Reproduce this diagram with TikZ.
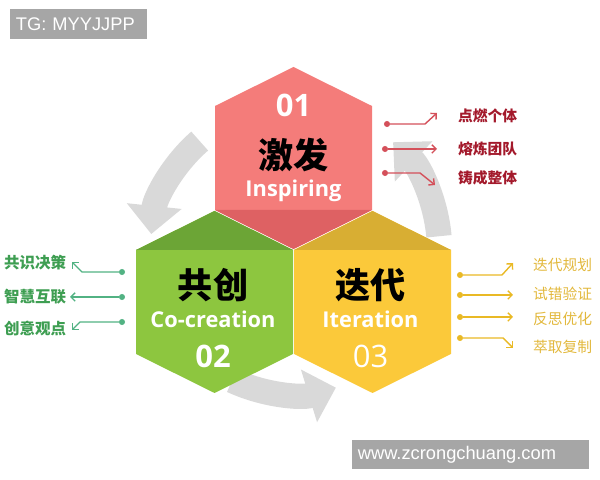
\documentclass[tikz,border=0pt]{standalone}
\usepackage{fontspec}
\setmainfont{Open Sans}
\newfontfamily\cjk{Noto Sans CJK SC}
\newfontfamily\plainsans{Liberation Sans}
\usetikzlibrary{arrows.meta}

\definecolor{HexRedFill}{HTML}{F47C7A}
\definecolor{HexRedCap}{HTML}{DE6163}
\definecolor{HexGreenFill}{HTML}{8DC63F}
\definecolor{HexGreenCap}{HTML}{6CA536}
\definecolor{HexGoldFill}{HTML}{FBC93A}
\definecolor{HexGoldCap}{HTML}{D8AE33}
\definecolor{TurnGrey}{HTML}{D9D9D9}
\definecolor{RedInk}{HTML}{A3192B}
\definecolor{RedWire}{HTML}{D4505A}
\definecolor{GreenInk}{HTML}{3E9E52}
\definecolor{GreenWire}{HTML}{52B283}
\definecolor{GoldInk}{HTML}{E2B83C}
\definecolor{GoldWire}{HTML}{E9B925}
\definecolor{MarkGrey}{HTML}{A6A6A6}

\newcommand{\HexPath}[1]{(#1) +(0,91) -- +(78.5,52) -- +(78.5,-52) -- +(0,-91) -- +(-78.5,-52) -- +(-78.5,52) -- cycle}

\begin{document}
\begin{tikzpicture}[x=0.025cm, y=0.025cm]
  \tikzstyle{every node} = [inner sep = 0,
                            outer sep = 0]
  \tikzstyle{TurnArrow} = [draw = TurnGrey, line width = 18pt,
                           -{Triangle[length = 20pt, width = 38pt]}]
  \tikzstyle{HexTitle} = [font = \cjk\bfseries\fontsize{25}{25}\selectfont]
  \tikzstyle{HexWord} = [font = \bfseries\fontsize{15.5}{16}\selectfont,
                         text = white, anchor = base]
  \tikzstyle{HexNum} = [font = \bfseries\fontsize{22}{22}\selectfont,
                        text = white, anchor = base]
  \tikzstyle{LabelText} = [font = \cjk\bfseries\fontsize{10.5}{11}\selectfont]
  \tikzstyle{WireDot} = [circle, minimum size = 4.3pt]
  \tikzstyle{MarkBox} = [fill = MarkGrey, text = white, anchor = north west,
                         font = \plainsans\fontsize{13}{13}\selectfont,
                         align = left, inner xsep = 4.2pt]
\tikzset{WireStyle/.style = {line width = 1pt,
                             -{Straight Barb[length = 3pt, width = 6pt]}}}
\useasboundingbox (0,0) rectangle (600,480);

\coordinate (R) at (293.5,322);
\coordinate (G) at (214.5,178);
\coordinate (Y) at (372.5,178);
\coordinate (M) at (293.5,231);

% turning arrows behind the cells
\draw[TurnArrow] ([shift={(131:143)}]M) arc[start angle = 131, end angle = 174, radius = 143];
\draw[TurnArrow] ([shift={(245:145)}]M) arc[start angle = 245, end angle = 287, radius = 145];
\draw[TurnArrow] ([shift={(5:146)}]M) arc[start angle = 5, end angle = 47, radius = 146];

% cells
\fill[HexRedFill] \HexPath{R};
\fill[HexGreenFill] \HexPath{G};
\fill[HexGoldFill] \HexPath{Y};
\fill[HexRedCap] (R) +(-78.5,-52) -- +(0,-91) -- +(78.5,-52) -- cycle;
\fill[HexGreenCap] (G) +(-78.5,52) -- +(0,91) -- +(78.5,52) -- cycle;
\fill[HexGoldCap] (Y) +(-78.5,52) -- +(0,91) -- +(78.5,52) -- cycle;

\node[HexNum] (num1) at (293.5,363) {01};
\node[HexTitle] (title1) at (293.5,325) {激发};
\node[HexWord] (word1) at (293.5,283) {Inspiring};

\node[HexTitle] (title2) at (213,195) {共创};
\node[HexWord] (word2) at (213,152) {Co-creation};
\node[HexNum] (num2) at (213,112) {02};

\node[HexTitle] (title3) at (370.5,195) {迭代};
\node[HexWord] (word3) at (370.5,152) {Iteration};
\node[HexNum, font = \fontsize{22}{22}\selectfont] (num3) at (370.5,112) {03};

% red labels
\node[WireDot, fill = RedWire] (rd1) at (387,356) {};
\node[WireDot, fill = RedWire] (rd2) at (385,331) {};
\node[WireDot, fill = RedWire] (rd3) at (385,307) {};
\coordinate (re1) at (437,367);
\coordinate (re2) at (437,331);
\coordinate (re3) at (435,295);
\node[LabelText, text = RedInk, anchor = west] (rt1) at (458,364) {点燃个体};
\node[LabelText, text = RedInk, anchor = west] (rt2) at (458,331) {熔炼团队};
\node[LabelText, text = RedInk, anchor = west] (rt3) at (458,302) {铸成整体};
\draw[WireStyle, RedWire] (rd1) -- ++(38,0) -- (re1);
\draw[WireStyle, RedWire] (rd2) -- (re2);
\draw[WireStyle, RedWire] (rd3) -- ++(35,0) -- (re3);

% green labels
\node[WireDot, fill = GreenWire] (gd1) at (122,208) {};
\node[WireDot, fill = GreenWire] (gd2) at (122,183) {};
\node[WireDot, fill = GreenWire] (gd3) at (122,158) {};
\coordinate (ge1) at (72,218);
\coordinate (ge2) at (70,183);
\coordinate (ge3) at (72,150);
\node[LabelText, text = GreenInk, anchor = east, font = \cjk\bfseries\fontsize{11}{11}\selectfont] (gt1) at (66,217) {共识决策};
\node[LabelText, text = GreenInk, anchor = east, font = \cjk\bfseries\fontsize{11}{11}\selectfont] (gt2) at (66,183) {智慧互联};
\node[LabelText, text = GreenInk, anchor = east, font = \cjk\bfseries\fontsize{11}{11}\selectfont] (gt3) at (66,151) {创意观点};
\draw[WireStyle, GreenWire] (gd1) -- ++(-40,0) -- (ge1);
\draw[WireStyle, GreenWire] (gd2) -- (ge2);
\draw[WireStyle, GreenWire] (gd3) -- ++(-42,0) -- (ge3);

% gold labels
\node[WireDot, fill = GoldWire] (yd1) at (460,205) {};
\node[WireDot, fill = GoldWire] (yd2) at (460,185) {};
\node[WireDot, fill = GoldWire] (yd3) at (460,163) {};
\node[WireDot, fill = GoldWire] (yd4) at (460,142) {};
\coordinate (ye1) at (513,217);
\coordinate (ye2) at (513,185);
\coordinate (ye3) at (513,163);
\coordinate (ye4) at (513,132);
\node[LabelText, text = GoldInk, anchor = west, font = \cjk\fontsize{10.5}{11}\selectfont] (yt1) at (533,215) {迭代规划};
\node[LabelText, text = GoldInk, anchor = west, font = \cjk\fontsize{10.5}{11}\selectfont] (yt2) at (533,186) {试错验证};
\node[LabelText, text = GoldInk, anchor = west, font = \cjk\fontsize{10.5}{11}\selectfont] (yt3) at (533,161) {反思优化};
\node[LabelText, text = GoldInk, anchor = west, font = \cjk\fontsize{10.5}{11}\selectfont] (yt4) at (533,133) {萃取复制};
\draw[WireStyle, GoldWire] (yd1) -- ++(42,0) -- (ye1);
\draw[WireStyle, GoldWire] (yd2) -- (ye2);
\draw[WireStyle, GoldWire] (yd3) -- (ye3);
\draw[WireStyle, GoldWire] (yd4) -- ++(43,0) -- (ye4);

% marks
\node[MarkBox, text width = 89.3pt, minimum height = 21.3pt] (tag) at (10,471) {TG: MYYJJPP};
\node[MarkBox, text width = 160.2pt, minimum height = 20.6pt] (site) at (352,40) {www.zcrongchuang.com};

\end{tikzpicture}
\end{document}
